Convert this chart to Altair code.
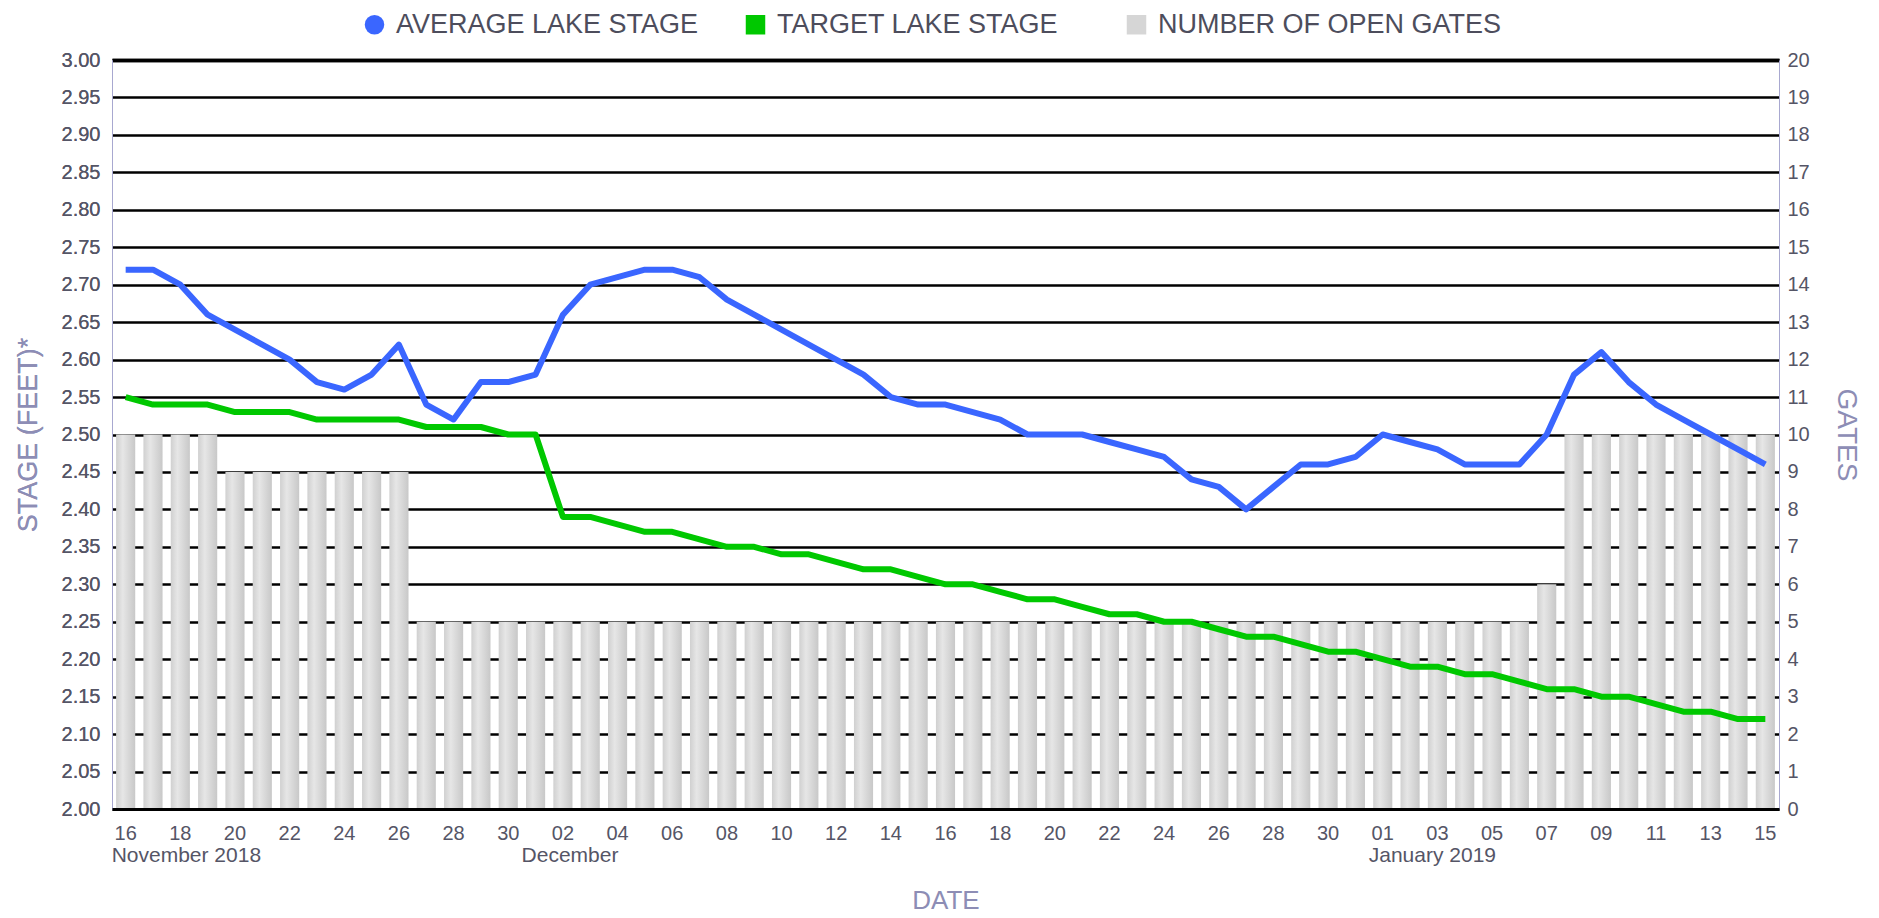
import altair as alt
import pandas as pd

# ---------------- data ----------------
dates = [d.strftime("%Y-%m-%d") for d in pd.date_range("2018-11-16", "2019-01-15", freq="D")]

average_stage = [
    2.72, 2.72, 2.70, 2.66, 2.64, 2.62, 2.60, 2.57, 2.56, 2.58, 2.62, 2.54, 2.52, 2.57, 2.57,
    2.58, 2.66, 2.70, 2.71, 2.72, 2.72, 2.71, 2.68, 2.66, 2.64, 2.62, 2.60, 2.58, 2.55, 2.54,
    2.54, 2.53, 2.52, 2.50, 2.50, 2.50, 2.49, 2.48, 2.47, 2.44, 2.43, 2.40, 2.43, 2.46, 2.46, 2.47,
    2.50, 2.49, 2.48, 2.46, 2.46, 2.46, 2.50, 2.58, 2.61, 2.57, 2.54, 2.52, 2.50, 2.48, 2.46,
]

target_stage = [
    2.55, 2.54, 2.54, 2.54, 2.53, 2.53, 2.53, 2.52, 2.52, 2.52, 2.52, 2.51, 2.51, 2.51, 2.50,
    2.50, 2.39, 2.39, 2.38, 2.37, 2.37, 2.36, 2.35, 2.35, 2.34, 2.34, 2.33, 2.32, 2.32, 2.31,
    2.30, 2.30, 2.29, 2.28, 2.28, 2.27, 2.26, 2.26, 2.25, 2.25, 2.24, 2.23, 2.23, 2.22, 2.21, 2.21,
    2.20, 2.19, 2.19, 2.18, 2.18, 2.17, 2.16, 2.16, 2.15, 2.15, 2.14, 2.13, 2.13, 2.12, 2.12,
]

open_gates = [
    10, 10, 10, 10, 9, 9, 9, 9, 9, 9, 9, 5, 5, 5, 5,
    5, 5, 5, 5, 5, 5, 5, 5, 5, 5, 5, 5, 5, 5, 5,
    5, 5, 5, 5, 5, 5, 5, 5, 5, 5, 5, 5, 5, 5, 5, 5,
    5, 5, 5, 5, 5, 5, 6, 10, 10, 10, 10, 10, 10, 10, 10,
]

month_dates = ["2018-11-16", "2018-12-01", "2019-01-01"]
month_names = ["November 2018", "December", "January 2019"]

stage_ticks = [2.00, 2.05, 2.10, 2.15, 2.20, 2.25, 2.30, 2.35, 2.40, 2.45, 2.50,
               2.55, 2.60, 2.65, 2.70, 2.75, 2.80, 2.85, 2.90, 2.95, 3.00]
gate_ticks = [0, 1, 2, 3, 4, 5, 6, 7, 8, 9, 10, 11, 12, 13, 14, 15, 16, 17, 18, 19, 20]
x_label_dates = dates[::2]

legend_names = ["AVERAGE LAKE STAGE", "TARGET LAKE STAGE", "NUMBER OF OPEN GATES"]
legend_colors = ["#3a66ff", "#00c800", "#d6d6d6"]
legend_shapes = ["circle", "square", "square"]

# ---------------- styles ----------------
LABEL = "#555566"
TITLE = "#8d8db5"
AXISLINE = "#a8a8d0"
FONT = "Liberation Sans"

stage_df = pd.DataFrame({
    "date": dates * 2,
    "series": [legend_names[0]] * len(dates) + [legend_names[1]] * len(dates),
    "stage": average_stage + target_stage,
})
gates_df = pd.DataFrame({"date": dates, "gates": open_gates})
month_df = pd.DataFrame({"date": month_dates, "name": month_names})
legend_df = pd.DataFrame({"item": legend_names})

x_enc = alt.X(
    "date:O",
    scale=alt.Scale(paddingInner=0.3, paddingOuter=0.15),
    axis=alt.Axis(
        values=x_label_dates,
        labelExpr="slice(datum.value, 8, 10)",
        labelAngle=0, ticks=False, tickSize=0, labelPadding=14,
        labelFontSize=20, labelColor=LABEL, labelFont=FONT,
        domainColor="#000000", domainWidth=3, grid=False, zindex=1,
        title="DATE", titleFontSize=26, titleColor=TITLE, titleFontWeight="normal",
        titleFont=FONT, titleX=833.5, titleY=91, titleBaseline="middle", titleAlign="center",
    ),
)

y_stage = alt.Y(
    "stage:Q",
    scale=alt.Scale(domain=[2, 3], nice=False, zero=False),
    axis=alt.Axis(
        orient="left", values=stage_ticks, format=".2f",
        grid=True, gridColor="#000000",
        gridWidth={"condition": {"test": "datum.value >= 2.999", "value": 3.5}, "value": 2},
        ticks=False, tickSize=0, labelPadding=12,
        labelFontSize=20, labelColor=LABEL, labelFont=FONT,
        domainColor=AXISLINE, domainWidth=1,
        title="STAGE (FEET)*", titleFontSize=27, titleColor=TITLE, titleFontWeight="normal",
        titleFont=FONT, titleAngle=270, titleX=-84, titleY=374.5,
        titleBaseline="middle", titleAlign="center",
    ),
)

y_gates = alt.Y(
    "gates:Q",
    scale=alt.Scale(domain=[0, 20], nice=False),
    axis=alt.Axis(
        orient="right", values=gate_ticks, grid=False,
        ticks=False, tickSize=0, labelPadding=8,
        labelFontSize=20, labelColor=LABEL, labelFont=FONT,
        domainColor=AXISLINE, domainWidth=1,
        title="GATES", titleFontSize=28, titleColor=TITLE, titleFontWeight="normal",
        titleFont=FONT, titleAngle=90, titleX=66, titleY=374.5,
        titleBaseline="middle", titleAlign="center",
    ),
)

bar_gradient = {
    "gradient": "linear", "x1": 0, "x2": 1, "y1": 0, "y2": 0,
    "stops": [
        {"offset": 0, "color": "#d0d0d0"},
        {"offset": 0.35, "color": "#e6e6e6"},
        {"offset": 1, "color": "#c8c8c8"},
    ],
}

bars = alt.Chart(gates_df).mark_bar(color=bar_gradient).encode(x=x_enc, y=y_gates)

target_line = (
    alt.Chart(stage_df)
    .transform_filter(alt.datum.series == legend_names[1])
    .mark_line(color=legend_colors[1], strokeWidth=6, strokeJoin="round")
    .encode(x=x_enc, y=y_stage)
)

avg_line = (
    alt.Chart(stage_df)
    .transform_filter(alt.datum.series == legend_names[0])
    .mark_line(color=legend_colors[0], strokeWidth=6, strokeJoin="round")
    .encode(x=x_enc, y=y_stage)
)

months = (
    alt.Chart(month_df)
    .mark_text(align="left", baseline="middle", dx=-14, fontSize=21, color=LABEL, font=FONT)
    .encode(x=x_enc, y=alt.value(796), text="name:N")
)

leg = alt.Legend(
    orient="none", legendX=249, legendY=-49, direction="horizontal", title=None,
    labelFontSize=27, labelColor="#4d4d5c", labelFont=FONT, labelOffset=8,
    symbolSize=380, symbolStrokeWidth=0, gridAlign="all", columnPadding=2, padding=0,
    labelLimit=600,
)

legend_layer = (
    alt.Chart(legend_df)
    .transform_filter("false")
    .mark_point(filled=True, size=380, opacity=1)
    .encode(
        color=alt.Color("item:N", scale=alt.Scale(domain=legend_names, range=legend_colors), legend=leg),
        shape=alt.Shape("item:N", scale=alt.Scale(domain=legend_names, range=legend_shapes), legend=leg),
    )
)

chart = (
    alt.layer(bars, target_line, avg_line, months, legend_layer)
    .resolve_scale(y="independent")
    .properties(
        width=1667, height=749,
        autosize=alt.AutoSizeParams(type="none"),
        padding={"left": 104, "top": 52, "right": 90, "bottom": 108},
    )
    .configure(font=FONT)
    .configure_view(strokeWidth=0)
)

chart.save("out.html", embed_options={"renderer": "svg", "actions": False})
